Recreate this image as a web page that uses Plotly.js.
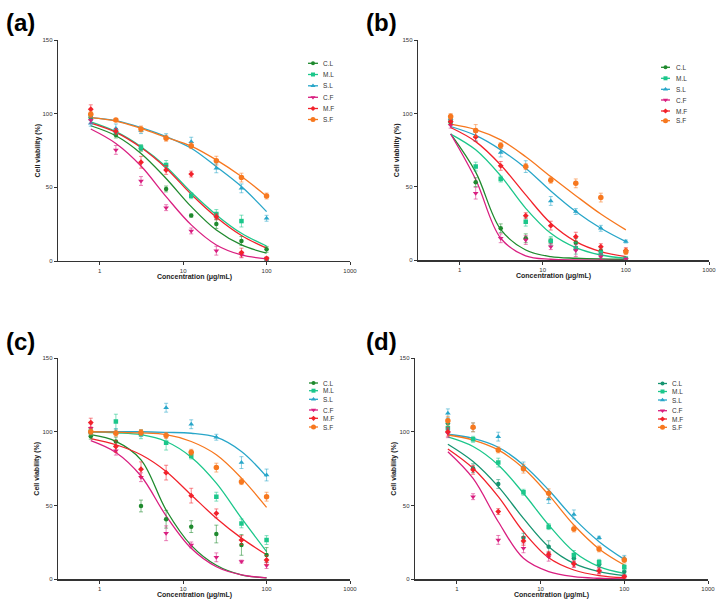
<!DOCTYPE html>
<html><head><meta charset="utf-8">
<script src="https://cdn.plot.ly/plotly-3.0.1.min.js"></script>
<style>html,body{margin:0;padding:0;background:#fff}#chart{width:722px;height:603px}</style>
</head><body><div id="chart"></div>
<script>
// ---- data ----
const conc = [0.78125, 1.5625, 3.125, 6.25, 12.5, 25, 50, 100];
const seriesNames = ['C.L', 'M.L', 'S.L', 'C.F', 'M.F', 'S.F'];
const xTickVals = [1, 10, 100, 1000];
const xTickText = ['1', '10', '100', '1000'];
const yTickVals = [0, 50, 100, 150];
const panelLabels = ['(a)', '(b)', '(c)', '(d)'];

// panel (a): rows in seriesNames order
const panelA_mean = [
  [97.3, 85.5, 76.5, 48.9, 30.8, 25.1, 13.6, 7.9],
  [98.5, 87.7, 77.0, 65.2, 44.3, 31.9, 27.1, 0.7],
  [93.5, 90.0, 88.5, 84.4, 81.0, 62.9, 49.3, 29.0],
  [95.5, 75.4, 54.3, 36.2, 20.4, 7.0, 4.2, 1.5],
  [103.0, 88.0, 67.0, 61.8, 59.0, 30.0, 5.7, 1.8],
  [99.6, 95.7, 89.6, 83.3, 78.3, 68.1, 56.6, 44.1]
];
const panelA_sd = [
  [2, 2, 2, 2, 1, 3, 3, 2],
  [2, 2, 2, 3, 2, 3, 4, 1],
  [2, 3, 2, 2, 3, 3, 3, 2],
  [2, 3, 3, 2, 2, 3, 2, 1],
  [3, 2, 4, 3, 2, 2, 3, 1],
  [2, 1, 2, 2, 2, 3, 3, 2]
];
const panelA_fit = [
  [91.8, 85.0, 73.0, 56.0, 36.9, 21.0, 10.9, 5.3],
  [94.4, 87.8, 77.6, 64.0, 46.6, 31.3, 18.8, 10.2],
  [97.3, 95.3, 90.5, 84.4, 76.5, 64.0, 50.5, 33.5],
  [89.6, 79.8, 64.5, 43.7, 24.5, 10.9, 4.1, 1.4],
  [93.5, 87.3, 77.0, 63.0, 45.3, 29.7, 17.3, 8.7],
  [97.3, 95.0, 90.0, 84.0, 78.0, 68.6, 57.3, 44.0]
];

// panel (b)
const panelB_mean = [
  [94.0, 53.2, 21.8, 15.0, 13.1, 12.0, 6.4, 1.0],
  [95.0, 63.8, 55.3, 26.3, 13.1, 8.2, 5.2, 1.0],
  [96.3, 84.3, 73.4, 63.8, 40.4, 33.2, 21.8, 12.8],
  [92.0, 45.7, 15.0, 13.8, 9.3, 6.6, 2.5, 0.8],
  [94.5, 84.0, 64.3, 30.4, 23.6, 16.1, 9.3, 6.6],
  [97.9, 88.4, 78.1, 63.8, 54.5, 52.4, 42.7, 5.9]
];
const panelB_sd = [
  [2, 3, 3, 3, 2, 3, 3, 1],
  [2, 3, 2, 3, 3, 4, 3, 1],
  [2, 3, 3, 4, 3, 2, 2, 1],
  [2, 4, 3, 3, 2, 4, 2, 1],
  [2, 3, 3, 2, 3, 3, 2, 2],
  [2, 4, 2, 2, 2, 3, 3, 2]
];
const panelB_fit = [
  [86.0, 60.0, 21.0, 7.0, 2.5, 1.4, 0.9, 0.7],
  [85.9, 75.2, 57.5, 35.4, 18.4, 8.6, 3.6, 1.4],
  [91.1, 85.0, 75.2, 62.7, 47.2, 33.2, 21.8, 12.7],
  [86.0, 55.0, 15.0, 3.0, 0.7, 0.2, 0.1, 0.0],
  [90.4, 80.8, 64.9, 44.5, 25.2, 12.7, 5.9, 2.5],
  [92.7, 89.0, 82.0, 70.5, 57.0, 44.0, 31.5, 20.7]
];

// panel (c)
const panelC_mean = [
  [97.0, 93.4, 49.7, 40.7, 35.7, 30.7, 23.3, 16.5],
  [100.0, 106.9, 98.3, 92.6, 83.6, 56.0, 37.9, 26.6],
  [100.0, 100.0, 99.0, 116.3, 105.1, 96.3, 79.1, 70.7],
  [102.3, 87.2, 69.2, 31.2, 23.3, 14.9, 12.0, 9.3],
  [106.2, 90.0, 74.6, 72.3, 56.7, 44.7, 26.6, 13.1],
  [100.0, 99.0, 99.5, 97.4, 86.1, 75.7, 66.2, 56.0]
];
const panelC_sd = [
  [2, 3, 4, 6, 4, 6, 7, 5],
  [2, 5, 3, 5, 2, 3, 3, 3],
  [2, 2, 2, 3, 3, 2, 4, 4],
  [3, 3, 3, 5, 2, 3, 1, 2],
  [3, 4, 5, 5, 5, 3, 3, 3],
  [2, 2, 2, 2, 2, 3, 2, 3]
];
const panelC_fit = [
  [98.0, 93.5, 81.0, 47.0, 23.0, 9.5, 3.0, 1.0],
  [100.0, 99.3, 98.0, 93.4, 82.8, 65.2, 41.4, 18.8],
  [100.0, 100.0, 100.0, 99.6, 99.0, 96.3, 86.6, 69.6],
  [94.0, 86.0, 70.0, 43.0, 21.0, 8.5, 3.0, 1.0],
  [95.3, 91.2, 84.4, 73.1, 57.2, 41.4, 27.9, 16.6],
  [100.0, 99.7, 99.2, 98.0, 93.4, 84.4, 68.6, 48.7]
];

// panel (d)
const panelD_mean = [
  [105.7, 75.3, 64.6, 28.2, 22.1, 14.2, 10.2, 5.2],
  [102.3, 94.9, 79.1, 59.0, 35.7, 16.5, 11.5, 8.1],
  [112.5, 103.0, 96.7, 76.5, 54.4, 44.0, 28.2, 14.2],
  [99.0, 56.0, 26.7, 21.0, 15.3, 10.0, 5.7, 1.8],
  [100.0, 74.2, 45.9, 26.0, 16.9, 10.5, 5.7, 1.8],
  [107.5, 103.0, 87.7, 75.0, 58.3, 34.1, 20.6, 13.1]
];
const panelD_sd = [
  [3, 3, 3, 3, 4, 3, 2, 2],
  [3, 2, 3, 2, 2, 3, 2, 2],
  [3, 3, 3, 3, 3, 3, 1, 2],
  [3, 2, 3, 3, 3, 2, 2, 1],
  [3, 3, 2, 3, 2, 2, 2, 1],
  [3, 3, 2, 3, 3, 2, 2, 2]
];
const panelD_fit = [
  [91.5, 79.8, 62.8, 41.3, 22.1, 10.8, 5.2, 2.5],
  [96.5, 90.0, 77.5, 58.3, 36.8, 18.7, 8.6, 4.0],
  [98.3, 95.5, 89.5, 77.5, 60.5, 41.3, 25.5, 13.5],
  [86.5, 68.4, 39.0, 14.2, 5.2, 1.8, 0.7, 0.2],
  [88.3, 75.2, 56.0, 32.2, 14.6, 6.3, 2.5, 1.1],
  [97.8, 94.4, 87.7, 75.2, 57.2, 36.8, 20.6, 9.7]
];

// ---- styles ----
const baseColors = ['#1f8a2e', '#1cc78b', '#28a6c9', '#d91f80', '#f2222b', '#f7781f'];
const dColors = ['#169470', '#1cc78b', '#28a6c9', '#d91f80', '#f2222b', '#f7781f'];
const symbols = ['circle', 'square', 'triangle-up', 'triangle-down', 'diamond', 'circle'];
const msizes = [4.5, 4.5, 5, 5, 4.5, 5.5];

function rgba(hex, a) {
  const n = parseInt(hex.slice(1), 16);
  return 'rgba(' + ((n >> 16) & 255) + ',' + ((n >> 8) & 255) + ',' + (n & 255) + ',' + a + ')';
}

const panels = [
  {xa: 'x', ya: 'y', mean: panelA_mean, sd: panelA_sd, fit: panelA_fit, colors: baseColors,
   leg: {x0: 308, x1: 318, tx: 321, ys: [63.3, 74.5, 85.8, 97.3, 108.5, 119.5]}},
  {xa: 'x2', ya: 'y2', mean: panelB_mean, sd: panelB_sd, fit: panelB_fit, colors: baseColors,
   leg: {x0: 661, x1: 670, tx: 674, ys: [67.3, 78.3, 89.3, 100, 111, 120.7]}},
  {xa: 'x3', ya: 'y3', mean: panelC_mean, sd: panelC_sd, fit: panelC_fit, colors: baseColors,
   leg: {x0: 309, x1: 318, tx: 321, ys: [383, 390.7, 399.3, 410, 418.3, 427]}},
  {xa: 'x4', ya: 'y4', mean: panelD_mean, sd: panelD_sd, fit: panelD_fit, colors: dColors,
   leg: {x0: 658, x1: 667, tx: 670, ys: [383.5, 391.5, 400, 410.7, 419, 427.3]}}
];

const traces = [];
const annotations = [];
panels.forEach(function (p) {
  // fitted curves
  p.fit.forEach(function (row, i) {
    traces.push({x: conc, y: row, xaxis: p.xa, yaxis: p.ya, type: 'scatter', mode: 'lines',
      line: {color: p.colors[i], width: 1.3, shape: 'spline', smoothing: 1},
      hoverinfo: 'skip', showlegend: false});
  });
  // mean +- sd points
  p.mean.forEach(function (row, i) {
    traces.push({x: conc, y: row, xaxis: p.xa, yaxis: p.ya, type: 'scatter', mode: 'markers',
      name: seriesNames[i],
      marker: {color: p.colors[i], symbol: symbols[i], size: msizes[i], line: {width: 0}},
      error_y: {type: 'data', array: p.sd[i], visible: true, color: rgba(p.colors[i], 0.55), thickness: 1, width: 2},
      showlegend: false});
  });
  // legend samples
  p.leg.ys.forEach(function (yy, i) {
    traces.push({x: [p.leg.x0, p.leg.x1], y: [yy, yy],
      xaxis: 'x5', yaxis: 'y5', type: 'scatter', mode: 'lines',
      line: {color: p.colors[i], width: 1.3}, hoverinfo: 'skip', showlegend: false});
    traces.push({x: [(p.leg.x0 + p.leg.x1) / 2], y: [yy],
      xaxis: 'x5', yaxis: 'y5', type: 'scatter', mode: 'markers',
      marker: {color: p.colors[i], symbol: symbols[i], size: msizes[i] - 0.5, line: {width: 0}},
      hoverinfo: 'skip', showlegend: false});
    annotations.push({xref: 'x5', yref: 'y5', x: p.leg.tx, y: yy, text: seriesNames[i],
      showarrow: false, xanchor: 'left', yanchor: 'middle',
      font: {size: 6.5, color: '#333', family: 'Arial, Liberation Sans, sans-serif'}});
  });
});

const F = 'Arial, Liberation Sans, sans-serif';
function xAxis(domain, anchor) {
  return {domain: domain, anchor: anchor, type: 'log', range: [-0.5, 3.0],
    tickvals: xTickVals, ticktext: xTickText, ticks: 'outside', ticklen: 3, tickwidth: 1,
    tickcolor: '#333', showline: true, linecolor: '#333', linewidth: 1.3, mirror: false,
    showgrid: false, zeroline: false, tickfont: {size: 6, color: '#333', family: F}, fixedrange: true};
}
function yAxis(domain, anchor) {
  return {domain: domain, anchor: anchor, range: [0, 150], tickvals: yTickVals,
    ticks: 'outside', ticklen: 3, tickwidth: 1, tickcolor: '#333', showline: true,
    linecolor: '#333', linewidth: 1.3, showgrid: false, zeroline: false,
    tickfont: {size: 6, color: '#333', family: F}, fixedrange: true};
}

const W = 722, H = 603;
function dx(a, b) { return [a / W, b / W]; }
function dy(top, bottom) { return [1 - bottom / H, 1 - top / H]; }

// axis titles and panel letters
const plotBoxes = [
  {l: 58, r: 350, t: 40, b: 261, lx: 4, ly: 22},
  {l: 418, r: 709, t: 40, b: 260.3, lx: 364, ly: 22},
  {l: 58, r: 350, t: 358, b: 579.3, lx: 4, ly: 341},
  {l: 415, r: 708, t: 358, b: 579.3, lx: 364, ly: 341}
];
plotBoxes.forEach(function (bx, k) {
  annotations.push({xref: 'x5', yref: 'y5', x: (bx.l + bx.r) / 2 - 10, y: bx.b + 16,
    text: '<b>Concentration (μg/mL)</b>', showarrow: false, xanchor: 'center', yanchor: 'middle',
    font: {size: 7, color: '#222', family: F}});
  annotations.push({xref: 'x5', yref: 'y5', x: bx.l - 21, y: (bx.t + bx.b) / 2,
    text: '<b>Cell viability (%)</b>', showarrow: false, textangle: -90, xanchor: 'center', yanchor: 'middle',
    font: {size: 7, color: '#222', family: F}});
  annotations.push({xref: 'x5', yref: 'y5', x: bx.lx, y: bx.ly,
    text: '<b>' + panelLabels[k] + '</b>', showarrow: false, xanchor: 'left', yanchor: 'middle',
    font: {size: 24, color: '#000', family: F}});
});

const layout = {
  width: W, height: H, margin: {l: 0, r: 0, t: 0, b: 0},
  paper_bgcolor: '#fff', plot_bgcolor: 'rgba(0,0,0,0)', showlegend: false,
  xaxis: xAxis(dx(58, 350), 'y'), yaxis: yAxis(dy(40, 261), 'x'),
  xaxis2: xAxis(dx(418, 709), 'y2'), yaxis2: yAxis(dy(40, 260.3), 'x2'),
  xaxis3: xAxis(dx(58, 350), 'y3'), yaxis3: yAxis(dy(358, 579.3), 'x3'),
  xaxis4: xAxis(dx(415, 708), 'y4'), yaxis4: yAxis(dy(358, 579.3), 'x4'),
  xaxis5: {domain: [0, 1], range: [0, W], visible: false, fixedrange: true, anchor: 'y5'},
  yaxis5: {domain: [0, 1], range: [H, 0], visible: false, fixedrange: true, anchor: 'x5'},
  annotations: annotations
};

Plotly.newPlot('chart', traces, layout, {staticPlot: true, displayModeBar: false});
</script>
</body></html>
